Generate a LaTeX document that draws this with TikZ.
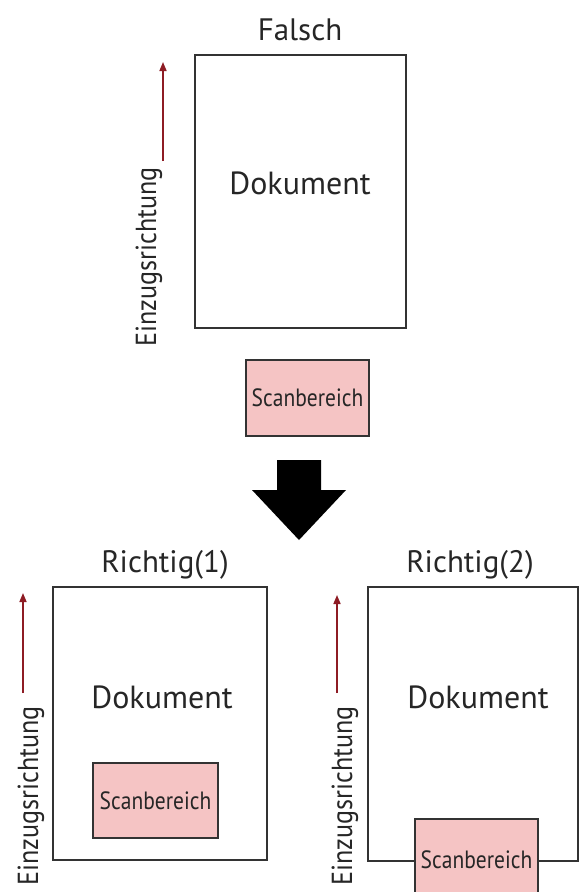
\documentclass[tikz,border=0pt]{standalone}
\usepackage{fontspec}
\setmainfont{PT Sans}
\usepackage{graphicx}
\usetikzlibrary{arrows.meta}
\definecolor{scanpink}{HTML}{F5C4C4}
\definecolor{feedred}{HTML}{8E1C24}
\definecolor{edgegray}{HTML}{333333}
\tikzset{
  docbox/.style={draw=edgegray, line width=2pt, fill=white},
  scanbox/.style={draw=edgegray, line width=2pt, fill=scanpink},
  doclabel/.style={font=\fontsize{32}{33}\selectfont, text=black!85},
  scanlabel/.style={font=\fontsize{25}{26}\selectfont, text=black!85},
  titlelabel/.style={font=\fontsize{31}{32}\selectfont, text=black!85},
  feedlabel/.style={font=\fontsize{29}{30}\selectfont, text=black!85, rotate=90},
  feedarrow/.style={draw=feedred, line width=1.6pt, -{Triangle[length=9pt,width=7pt]}},
}
\newcommand{\narrowscan}[1]{\scalebox{0.86}[1]{#1}}
\newcommand{\narrowfeed}[1]{\scalebox{0.9}[1]{#1}}
\begin{document}
\begin{tikzpicture}[x=1pt,y=-1pt]
\useasboundingbox (0,0) rectangle (579,892);
\clip (0,0) rectangle (579,892);
\fill[white] (0,0) rectangle (579,892);

% ---- Falsch ----
\node[titlelabel] (t1) at (300,30) {Falsch};
\draw[docbox] (195,55) rectangle (406,328);
\node[doclabel] (d1) at (300,183) {Dokument};
\draw[scanbox] (246,360) rectangle (369,436);
\node[scanlabel] (s1) at (307.5,398) {\narrowscan{Scanbereich}};
\node[feedlabel] (f1) at (149,257) {\narrowfeed{Einzugsrichtung}};
\coordinate (f1a) at (163,161);
\coordinate (f1b) at (163,62);
\draw[feedarrow] (f1a) -- (f1b);

% ---- big arrow ----
\fill[black] (277,460) -- (321,460) -- (321,490) -- (346,490) -- (299,540) -- (252,490) -- (277,490) -- cycle;

% ---- Richtig(1) ----
\node[titlelabel] (t2) at (165,565) {Richtig(1)};
\draw[docbox] (53,587) rectangle (267,860);
\node[doclabel] (d2) at (162,697) {Dokument};
\draw[scanbox] (93,763) rectangle (218,838);
\node[scanlabel] (s2) at (155.5,801) {\narrowscan{Scanbereich}};
\node[feedlabel] (f2) at (31,796) {\narrowfeed{Einzugsrichtung}};
\coordinate (f2a) at (23,693);
\coordinate (f2b) at (23,593);
\draw[feedarrow] (f2a) -- (f2b);

% ---- Richtig(2) ----
\node[titlelabel] (t3) at (470,565) {Richtig(2)};
\draw[docbox] (368,587) rectangle (578,861);
\node[doclabel] (d3) at (478,697) {Dokument};
\draw[scanbox] (415,819) rectangle (538,900);
\node[scanlabel] (s3) at (476.5,860) {\narrowscan{Scanbereich}};
\node[feedlabel] (f3) at (345,796) {\narrowfeed{Einzugsrichtung}};
\coordinate (f3a) at (337,693);
\coordinate (f3b) at (337,595);
\draw[feedarrow] (f3a) -- (f3b);
\end{tikzpicture}
\end{document}
